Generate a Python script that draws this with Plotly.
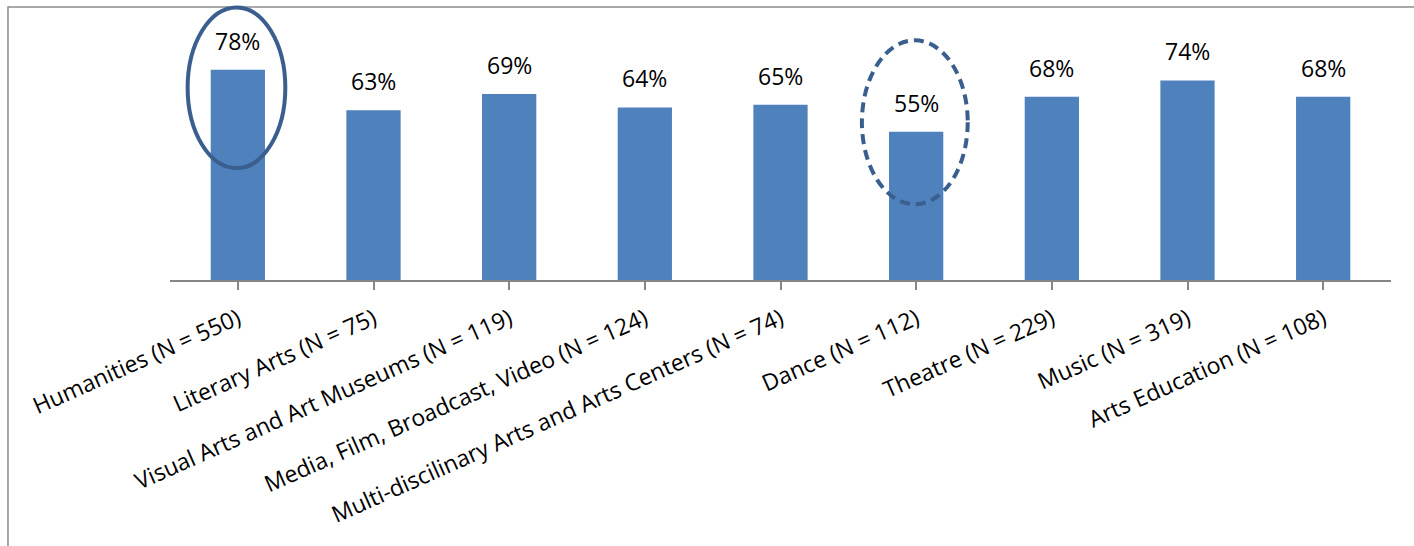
import plotly.graph_objects as go

categories = [
    "Humanities (N = 550)",
    "Literary Arts (N = 75)",
    "Visual Arts and Art Museums (N = 119)",
    "Media, Film, Broadcast, Video (N = 124)",
    "Multi-discilinary Arts and Arts Centers (N = 74)",
    "Dance (N = 112)",
    "Theatre (N = 229)",
    "Music (N = 319)",
    "Arts Education (N = 108)",
]
shares = [0.78, 0.63, 0.69, 0.64, 0.65, 0.55, 0.68, 0.74, 0.68]

BAR = "#4F81BD"
RING = "#3A5F8E"
FONT = "Open Sans, Noto Sans, sans-serif"

fig = go.Figure()
fig.add_trace(go.Bar(
    x=list(range(len(categories))),
    y=shares,
    marker=dict(color=BAR, line=dict(width=0)),
    hoverinfo="skip",
))

# percentage labels above each bar
for i, v in enumerate(shares):
    fig.add_annotation(
        x=i, y=v, xref="x", yref="y",
        text=f"{round(v * 100)}%",
        showarrow=False, yanchor="bottom", yshift=11,
        font=dict(family=FONT, size=23, color="#000000"),
    )

# highlight rings: highest (solid) and lowest (dashed)
fig.add_shape(type="circle", xref="x", yref="y",
              x0=-0.37, x1=0.35, y0=0.415, y1=1.011,
              line=dict(color=RING, width=4), layer="above")
fig.add_shape(type="circle", xref="x", yref="y",
              x0=5 - 0.40, x1=5 + 0.38, y0=0.281, y1=0.889,
              line=dict(color=RING, width=4, dash="10px,6px"), layer="above")

# outer chart frame
fig.add_shape(type="rect", xref="paper", yref="paper",
              x0=-0.1327, x1=1.05, y0=-1.2, y1=0.9927,
              line=dict(color="#8C8C8C", width=1.5), layer="below")

fig.update_layout(
    width=1414, height=546,
    margin=dict(l=170, r=23, t=5, b=266),
    paper_bgcolor="white", plot_bgcolor="white",
    bargap=0.6, showlegend=False,
    font=dict(family=FONT, color="#000000"),
    xaxis=dict(
        tickmode="array",
        tickvals=list(range(len(categories))),
        ticktext=categories,
        tickangle=-24,
        tickfont=dict(family=FONT, size=23, color="#000000"),
        showline=True, linecolor="#868686", linewidth=1.5,
        ticks="outside", ticklen=8, tickcolor="#868686", tickwidth=1.5,
        tickson="boundaries",
        ticklabelstandoff=7,
        range=[-0.5, len(categories) - 0.5],
        showgrid=False, zeroline=False,
    ),
    yaxis=dict(range=[0, 1.02], visible=False, showgrid=False, zeroline=False),
)

fig.write_html("out.html")
